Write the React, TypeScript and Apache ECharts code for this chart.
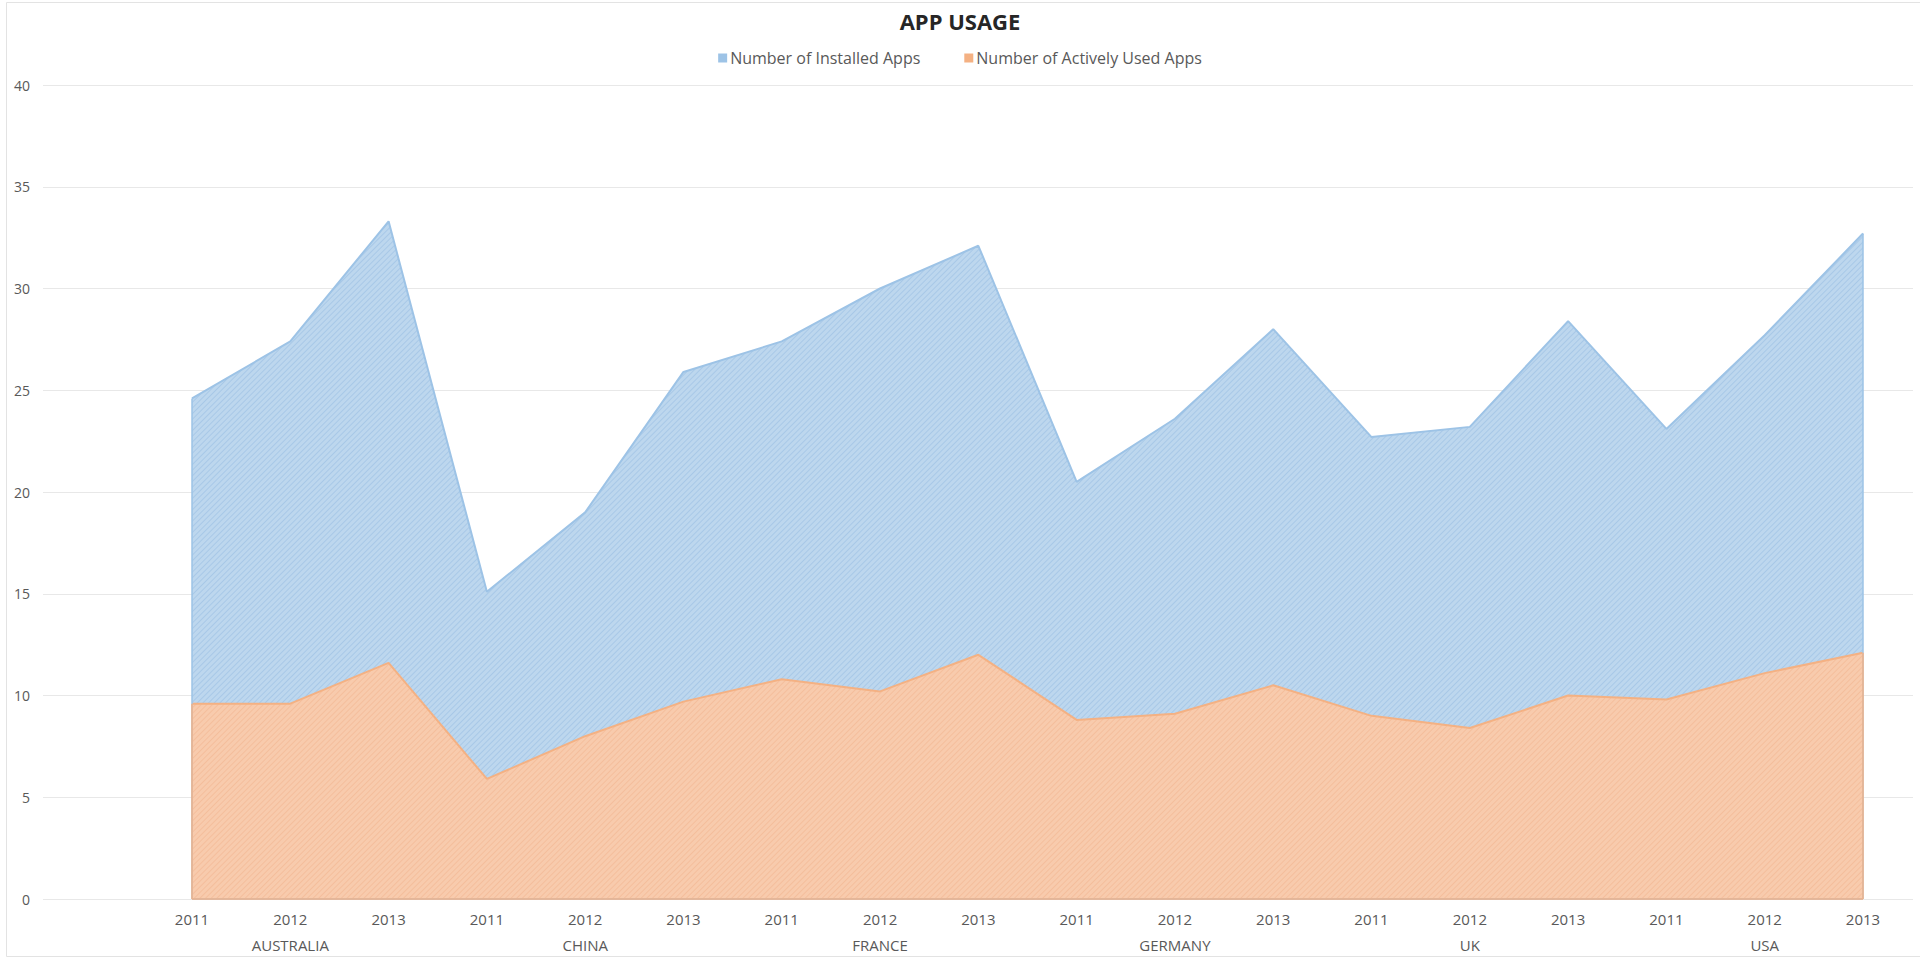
import React, { useEffect, useRef } from "react";
import * as echarts from "echarts";

// Countries and years that make up the category axis
const countries = ["AUSTRALIA", "CHINA", "FRANCE", "GERMANY", "UK", "USA"];
const years = ["2011", "2012", "2013"];

// Apps per user, one value per country/year
const installedApps = [
  24.6, 27.4, 33.3, 15.1, 19.0, 25.9, 27.4, 30.0, 32.1, 20.5, 23.6, 28.0, 22.7,
  23.2, 28.4, 23.1, 27.7, 32.7,
];
const activeApps = [
  9.6, 9.6, 11.6, 5.9, 8.0, 9.7, 10.8, 10.2, 12.0, 8.8, 9.1, 10.5, 9.0, 8.4,
  10.0, 9.8, 11.1, 12.1,
];

const yTicks = { min: 0, max: 40, interval: 5 };

const FONT = "'Open Sans', 'Noto Sans', sans-serif";
const BLUE_LINE = "#9dc3e6";
const BLUE_FILL = "#bdd7ee";
const ORANGE_LINE = "#f4b183";
const ORANGE_FILL = "#f8cbad";

const categories = countries.flatMap((c) => years.map((y) => `${c}|${y}`));

function edgeLines(values: number[]) {
  const last = values.length - 1;
  return [
    [{ coord: [0, 0] }, { coord: [0, values[0]] }],
    [{ coord: [last, 0] }, { coord: [last, values[last]] }],
    [{ coord: [0, 0] }, { coord: [last, 0] }],
  ];
}

export default function App() {
  const ref = useRef<HTMLDivElement>(null);

  useEffect(() => {
    if (!ref.current) return;
    const chart = echarts.init(ref.current, undefined, { renderer: "svg" });

    const option: any = {
      animation: false,
      backgroundColor: "#ffffff",
      title: {
        text: "APP USAGE",
        left: "center",
        top: 5,
        textStyle: {
          fontFamily: FONT,
          fontSize: 22,
          fontWeight: "bold",
          color: "#262626",
        },
      },
      legend: {
        top: 45,
        left: "center",
        itemGap: 44,
        itemWidth: 9,
        itemHeight: 9,
        icon: "rect",
        textStyle: { fontFamily: FONT, fontSize: 16, color: "#595959", padding: [0, 0, 0, -2] },
        data: [
          { name: "Number of Installed Apps", itemStyle: { color: BLUE_LINE, decal: "none" } },
          { name: "Number of Actively Used Apps", itemStyle: { color: ORANGE_LINE, decal: "none" } },
        ],
      },
      graphic: [
        {
          type: "rect",
          shape: { x: 6.5, y: 2.5, width: 1940, height: 954 },
          style: { fill: "none", stroke: "#e3e3e3", lineWidth: 1 },
          silent: true,
          z: -10,
        },
      ],
      grid: [
        // wide grid that carries the value labels and gridlines
        { left: 43, right: 7, top: 85, bottom: 61, outerBoundsMode: "none", containLabel: false },
        // plotting grid for the areas
        { left: 192, right: 57, top: 85, bottom: 61, outerBoundsMode: "none", containLabel: false },
      ],
      xAxis: [
        { gridIndex: 0, type: "value", show: false, min: 0, max: 1 },
        {
          gridIndex: 1,
          type: "category",
          data: categories,
          boundaryGap: false,
          axisLine: { show: false },
          axisTick: { show: false },
          splitLine: { show: false },
          axisLabel: {
            interval: 0,
            margin: 11,
            fontFamily: FONT,
            fontSize: 15,
            color: "#595959",
            lineHeight: 17,
            formatter: (value: string, index: number) => {
              const [country, year] = value.split("|");
              return index % years.length === 1 ? `${year}\n{c|${country}}` : year;
            },
            rich: {
              c: {
                fontFamily: FONT,
                fontSize: 15,
                color: "#595959",
                lineHeight: 36,
              },
            },
          },
        },
      ],
      yAxis: [
        {
          gridIndex: 0,
          type: "value",
          ...yTicks,
          axisLine: { show: false },
          axisTick: { show: false },
          splitLine: { show: true, lineStyle: { color: "#e8e8e8", width: 1 } },
          axisLabel: {
            margin: 13,
            fontFamily: FONT,
            fontSize: 14,
            color: "#595959",
          },
        },
        {
          gridIndex: 1,
          type: "value",
          ...yTicks,
          show: false,
          splitLine: { show: false },
        },
      ],
      series: [
        {
          name: "Number of Installed Apps",
          type: "line",
          xAxisIndex: 1,
          yAxisIndex: 1,
          data: installedApps,
          showSymbol: false,
          symbol: "none",
          lineStyle: { color: BLUE_LINE, width: 2 },
          itemStyle: {
            color: BLUE_LINE,
            decal: {
              symbol: "rect",
              symbolSize: 1,
              dashArrayX: [1, 0],
              dashArrayY: [1, 3],
              rotation: -Math.PI / 4,
              color: "rgba(120, 165, 215, 0.3)",
            },
          },
          areaStyle: { color: BLUE_FILL, opacity: 1 },
          markLine: {
            silent: true,
            symbol: "none",
            label: { show: false },
            lineStyle: { color: BLUE_LINE, width: 1.5, type: "solid" },
            data: edgeLines(installedApps),
          },
          z: 2,
        },
        {
          name: "Number of Actively Used Apps",
          type: "line",
          xAxisIndex: 1,
          yAxisIndex: 1,
          data: activeApps,
          showSymbol: false,
          symbol: "none",
          lineStyle: { color: ORANGE_LINE, width: 2 },
          itemStyle: {
            color: ORANGE_LINE,
            decal: {
              symbol: "rect",
              symbolSize: 1,
              dashArrayX: [1, 0],
              dashArrayY: [1, 3],
              rotation: -Math.PI / 4,
              color: "rgba(238, 160, 115, 0.3)",
            },
          },
          areaStyle: { color: ORANGE_FILL, opacity: 1 },
          markLine: {
            silent: true,
            symbol: "none",
            label: { show: false },
            lineStyle: { color: ORANGE_LINE, width: 1.5, type: "solid" },
            data: edgeLines(activeApps),
          },
          z: 3,
        },
      ],
    };

    chart.setOption(option);
    return () => chart.dispose();
  }, []);

  return (
    <div
      ref={ref}
      style={{ position: "fixed", left: 0, top: 0, width: 1920, height: 960 }}
    />
  );
}
